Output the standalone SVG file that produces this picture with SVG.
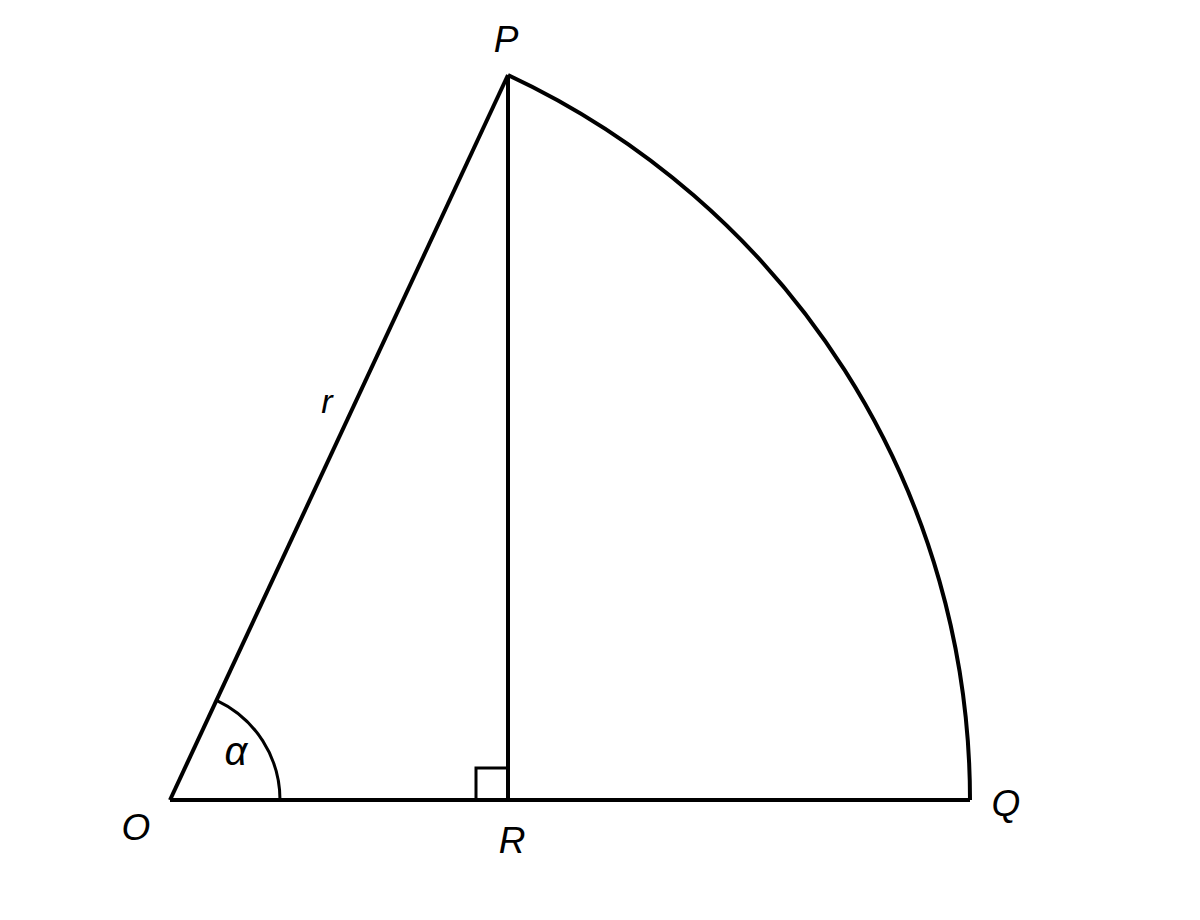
<svg xmlns="http://www.w3.org/2000/svg" width="1200" height="920" viewBox="0 0 1200 920">
<style>
.ln{fill:none;stroke:#000;stroke-width:4;stroke-linejoin:miter}
.thin{fill:none;stroke:#000;stroke-width:3}
.lb{font-family:"Liberation Sans",Arial,sans-serif;font-style:italic;font-size:37px;fill:#000;text-anchor:middle}
</style>
<rect width="1200" height="920" fill="#fff"/>
<g id="connectors">
<path class="ln" d="M170,800 L970,800"/>
<path class="ln" d="M170,800 L508,75"/>
<path class="ln" d="M508,75 L508,800"/>
<path class="ln" d="M508,75 A800,800 0 0 1 970,800"/>
<path class="thin" d="M216.5,700.3 A110,110 0 0 1 280,800"/>
<path class="thin" d="M476,800 L476,768 L508,768"/>
</g>
<g id="label-P"><text class="lb" x="506" y="52">P</text></g>
<g id="label-O"><text class="lb" x="136" y="840">O</text></g>
<g id="label-R"><text class="lb" x="512" y="853">R</text></g>
<g id="label-Q"><text class="lb" x="1006" y="816">Q</text></g>
<g id="label-r"><text class="lb" x="327" y="413" style="font-size:34px">r</text></g>
<g id="label-alpha"><text class="lb" x="236" y="765" style="font-size:40px">α</text></g>
</svg>
